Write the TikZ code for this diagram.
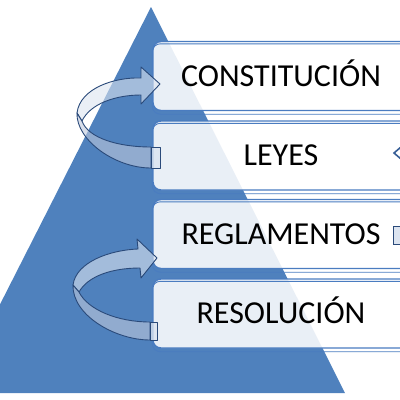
\documentclass[tikz,border=0pt]{standalone}
\usepackage{fontspec}
\setmainfont{Carlito}
\definecolor{triblue}{HTML}{4F81BD}
\definecolor{edgeblue}{HTML}{4A7CC0}
\definecolor{navy}{HTML}{2A4A7A}
\definecolor{ribbonback}{RGB}{220,228,240}
\definecolor{ribbonfront}{RGB}{190,200,220}
\begin{document}
\begin{tikzpicture}[x=1pt,y=-1pt,
  box/.style={draw=edgeblue, line width=1.4pt, fill=white, fill opacity=0.88, text opacity=1,
    rounded corners=8pt, minimum width=256pt, minimum height=69pt, text height=20pt,
    text depth=0pt, inner sep=0pt, font=\fontsize{32}{36}\selectfont, text=black},
  echo/.style={draw=edgeblue, line width=0.9pt, rounded corners=8pt},
  ribbon/.style={draw=navy, line width=0.9pt, line join=round, fill opacity=0.6}]
\useasboundingbox (0,0) rectangle (400,400);
\clip (0,0) rectangle (400,400);
% pyramid
\fill[triblue] (151,7) -- (345,393) -- (-45,393) -- cycle;
% levels
\node[box] (b1) at (281,76) {CONSTITUCIÓN};
\node[box] (b2) at (281,155.5) {LEYES};
\node[box] (b3) at (281,234) {REGLAMENTOS};
\node[box] (b4) at (281,313.5) {RESOLUCIÓN};
\foreach \b in {b1,b2,b3,b4}
  \draw[echo] ([yshift=-3pt]\b.north west) rectangle ([yshift=-3pt]\b.south east);
% cut-off pieces at the right edge
\draw[navy!60!edgeblue, line width=1.6pt] (401,147) -- (394,153) -- (401,159);
\filldraw[draw=navy, line width=0.9pt, fill=ribbonback] (393.5,226) rectangle (403,244);
% upper circular arrow (LEYES -> CONSTITUCION)
\filldraw[ribbon, fill=ribbonback] (77,113) .. controls (80,88) and (115,77) .. (141,78)
  -- (141,67) -- (160,84) -- (141,104) -- (141,95)
  .. controls (115,95) and (90,104) .. (82,121) -- cycle;
\filldraw[ribbon, fill=ribbonfront] (77,113) .. controls (76,140) and (115,168) .. (151,168)
  -- (151,147) .. controls (118,147) and (88,138) .. (82,121) -- cycle;
\filldraw[ribbon, fill=ribbonback, fill opacity=0.8] (151,147) rectangle (160,168);
% lower circular arrow (RESOLUCION -> REGLAMENTOS)
\filldraw[ribbon, fill=ribbonback] (73,285) .. controls (76,262) and (110,250) .. (138,249)
  -- (137,239) -- (157,258) -- (141,278) -- (140,268)
  .. controls (112,268) and (88,276) .. (79,292) -- cycle;
\filldraw[ribbon, fill=ribbonfront] (73,285) .. controls (72,315) and (115,340) .. (150,340)
  -- (150,322) .. controls (118,322) and (88,310) .. (79,292) -- cycle;
\filldraw[ribbon, fill=ribbonback, fill opacity=0.8] (150,322) rectangle (157,340);
\end{tikzpicture}
\end{document}
